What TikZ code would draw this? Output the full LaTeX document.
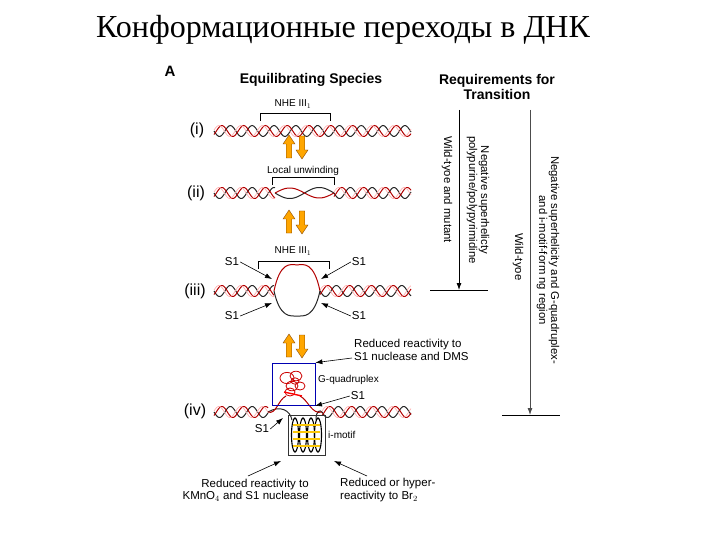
\documentclass[tikz,border=0pt]{standalone}
\usepackage{fontspec}
\setmainfont{Liberation Serif}
\newfontfamily\lsans{Liberation Sans}
\usetikzlibrary{arrows.meta}
\newcommand\dnahelix[3]{%
  \draw[black!85,line width=1pt] plot[domain=#1:#2,samples=120] (\x,{#3+5.5*sin(16.5*(\x-#1))});
  \draw[red!70!black,line width=1pt] plot[domain=#1:#2,samples=120] (\x,{#3+5.5*sin(16.5*(\x-#1)+140)});
  \draw[red!30,line width=0.7pt] plot[domain=#1:#2,samples=120] (\x,{#3+5.5*sin(16.5*(\x-#1)+190)});
}
\newcommand\fatarrow[3]{%
  \fill[orange!70!yellow,draw=orange!50!black,line width=0.3pt,shift={(#1,#2)},yscale=#3]
   (-2.8,11) -- (-2.8,-3) -- (-6,-3) -- (0,-12) -- (6,-3) -- (2.8,-3) -- (2.8,11) -- cycle;}
\tikzset{
  lab/.style={font=\lsans\fontsize{11.5}{12.5}\selectfont,inner sep=1pt},
  slab/.style={font=\lsans\fontsize{10}{11}\selectfont,inner sep=1pt},
  head/.style={font=\lsans\bfseries\fontsize{14}{14.5}\selectfont,align=center,inner sep=0pt},
  rlab/.style={font=\lsans\fontsize{11.3}{12}\selectfont,rotate=-90,align=center,inner sep=0pt,anchor=west},
  ptr/.style={-{Latex[length=7pt,width=5pt]},line width=0.6pt},
  brk/.style={line width=0.6pt},
  stage/.style={font=\lsans\fontsize{16}{18}\selectfont,inner sep=0pt},
}
\begin{document}
\begin{tikzpicture}[x=1pt,y=-1pt]
\useasboundingbox (0,0) rectangle (720,540);
\node[font=\fontsize{32}{34}\selectfont] (title) at (343,30) {Конформационные переходы в ДНК};
\node[font=\lsans\bfseries\fontsize{15}{16}\selectfont] (A) at (170,71) {A};
\node[head] (eq) at (311,80) {Equilibrating Species};
\node[head] (req) at (497,87) {Requirements for\\Transition};
\node[stage] (s1) at (197,130) {(i)};
\node[stage] (s2) at (196,193) {(ii)};
\node[stage] (s3) at (195,291) {(iii)};
\node[stage] (s4) at (195,411) {(iv)};
% (i)
\dnahelix{214}{411}{131}
\node[slab] (nhe1) at (293,104) {NHE III$_1$};
\draw[brk] (260,121) -- (260,113) -- (330,113) -- (330,121);
\fatarrow{289}{147}{1}
\fatarrow{302}{147}{-1}
\fatarrow{289}{222}{1}
\fatarrow{302}{222}{-1}
\fatarrow{289}{346}{1}
\fatarrow{302}{346}{-1}
% (ii)
\dnahelix{214}{275}{193}
\dnahelix{334}{411}{193}
\draw[black!85,line width=1pt] plot[domain=275:334,samples=60] (\x,{193+5.5*sin(6.1017*(\x-275))});
\draw[red!70!black,line width=1pt] plot[domain=275:334,samples=60] (\x,{193-5*sin(6.1017*(\x-275))});
\node[slab] (lu) at (303,171) {Local unwinding};
\draw[brk] (272,185) -- (272,177) -- (334,177) -- (334,185);
% (iii)
\dnahelix{214}{274}{291}
\dnahelix{320}{411}{291}
\draw[red!70!black,line width=1pt] (274,291) .. controls (280,262) and (290,264) .. (297,265) .. controls (304,264) and (314,262) .. (320,291);
\draw[black!85,line width=1pt] (274,291) .. controls (280,318) and (290,316) .. (297,316) .. controls (304,316) and (314,318) .. (320,291);
\node[slab] (nhe3) at (293,251) {NHE III$_1$};
\draw[brk] (258,269) -- (258,261) -- (329,261) -- (329,269);
\node[lab] (a1) at (232,262) {S1};
\node[lab] (a2) at (359,262) {S1};
\node[lab] (a3) at (232,316) {S1};
\node[lab] (a4) at (359,316) {S1};
\coordinate (b1) at (272,279); \coordinate (b2) at (321,279);
\coordinate (b3) at (272,303); \coordinate (b4) at (321,303);
\draw[ptr] (a1.east) -- (b1);
\draw[ptr] (a2.west) -- (b2);
\draw[ptr] (a3.east) -- (b3);
\draw[ptr] (a4.west) -- (b4);
% (iv)
\dnahelix{214}{268}{412}
\dnahelix{322}{411}{412}
\draw[black!85,line width=1pt] (268,412) .. controls (280,405) and (290,410) .. (292,420);
\draw[black!85,line width=1pt] (316,420) .. controls (316,410) and (320,410) .. (322,412);
\draw[red!70!black,line width=1pt] (268,412) .. controls (276,415) and (278,400) .. (286,396);
\draw[red!70!black,line width=1pt] (300,396) .. controls (308,400) and (312,415) .. (322,412);
\node[draw=blue!70!black,line width=0.7pt,minimum width=43pt,minimum height=42pt,inner sep=0pt] (gq) at (293.5,384) {};
\node[draw=black!80,line width=0.7pt,minimum width=37pt,minimum height=40pt,inner sep=0pt] (im) at (306.5,435) {};
\foreach \a/\b/\r in {287/378/7,296/376/6,292/386/6,300/386/5,290/392/5,295/381/4}{
  \draw[red!80!black,line width=0.8pt] (\a,\b) circle[x radius=\r pt,y radius=0.8*\r pt];}
\draw[red,line width=1.4pt] (284,392) -- (302,396);
\foreach \a in {295,303,311,318}{
  \draw[black,line width=1.1pt] (\a,435) ellipse[x radius=3.5pt,y radius=17pt];}
\foreach \b in {425,432,439,446}{
  \draw[yellow!60!orange,line width=1.6pt] (293,\b) -- (320,\b);}
\node[slab,anchor=west] (gql) at (317,380) {G-quadruplex};
\node[slab,anchor=west] (iml) at (327,435) {i-motif};
\node[lab,anchor=west,align=left] (rr1) at (353,350) {Reduced reactivity to\\S1 nuclease and DMS};
\coordinate (rr1t) at (352,358);
\draw[ptr] (rr1t) -- (gq.north east);
\node[lab] (s1a) at (358,396) {S1};
\coordinate (s1at) at (315,406);
\draw[ptr] (s1a.west) -- (s1at);
\node[lab] (s1b) at (262,429) {S1};
\coordinate (s1bt) at (283,418);
\draw[ptr] (s1b.east) -- (s1bt);
\node[lab,align=right,anchor=east] (rr2) at (310,490) {Reduced reactivity to\\KMnO$_4$ and S1 nuclease};
\node[lab,align=left,anchor=west] (rr3) at (339,490) {Reduced or hyper-\\reactivity to Br$_2$};
\coordinate (t2) at (281,461); \coordinate (t3) at (334,461);
\coordinate (f2) at (248,476); \coordinate (f3) at (367,476);
\draw[ptr] (f2) -- (t2);
\draw[ptr] (f3) -- (t3);
% right side
\coordinate (v1s) at (459,110); \coordinate (v1e) at (459,290);
\draw[ptr,line width=0.8pt] (v1s) -- (v1e);
\draw[line width=0.7pt] (430,290) -- (488,290);
\coordinate (v2s) at (530,110); \coordinate (v2e) at (530,415);
\draw[ptr,line width=0.8pt,black!70] (v2s) -- (v2e);
\draw[line width=0.7pt] (502,415) -- (560,415);
\node[rlab] (t1) at (478,136) {Negative superhelicty\\polypurine/polypyrimidine};
\node[rlab] (t1b) at (447,136) {Wild-tyoe and mutant};
\node[rlab] (t2a) at (548,156) {Negative superhelicity and G-quadruplex-\\and i-motif-form ng region};
\node[rlab] (t2b) at (518,233) {Wild-tyoe};
\end{tikzpicture}
\end{document}
